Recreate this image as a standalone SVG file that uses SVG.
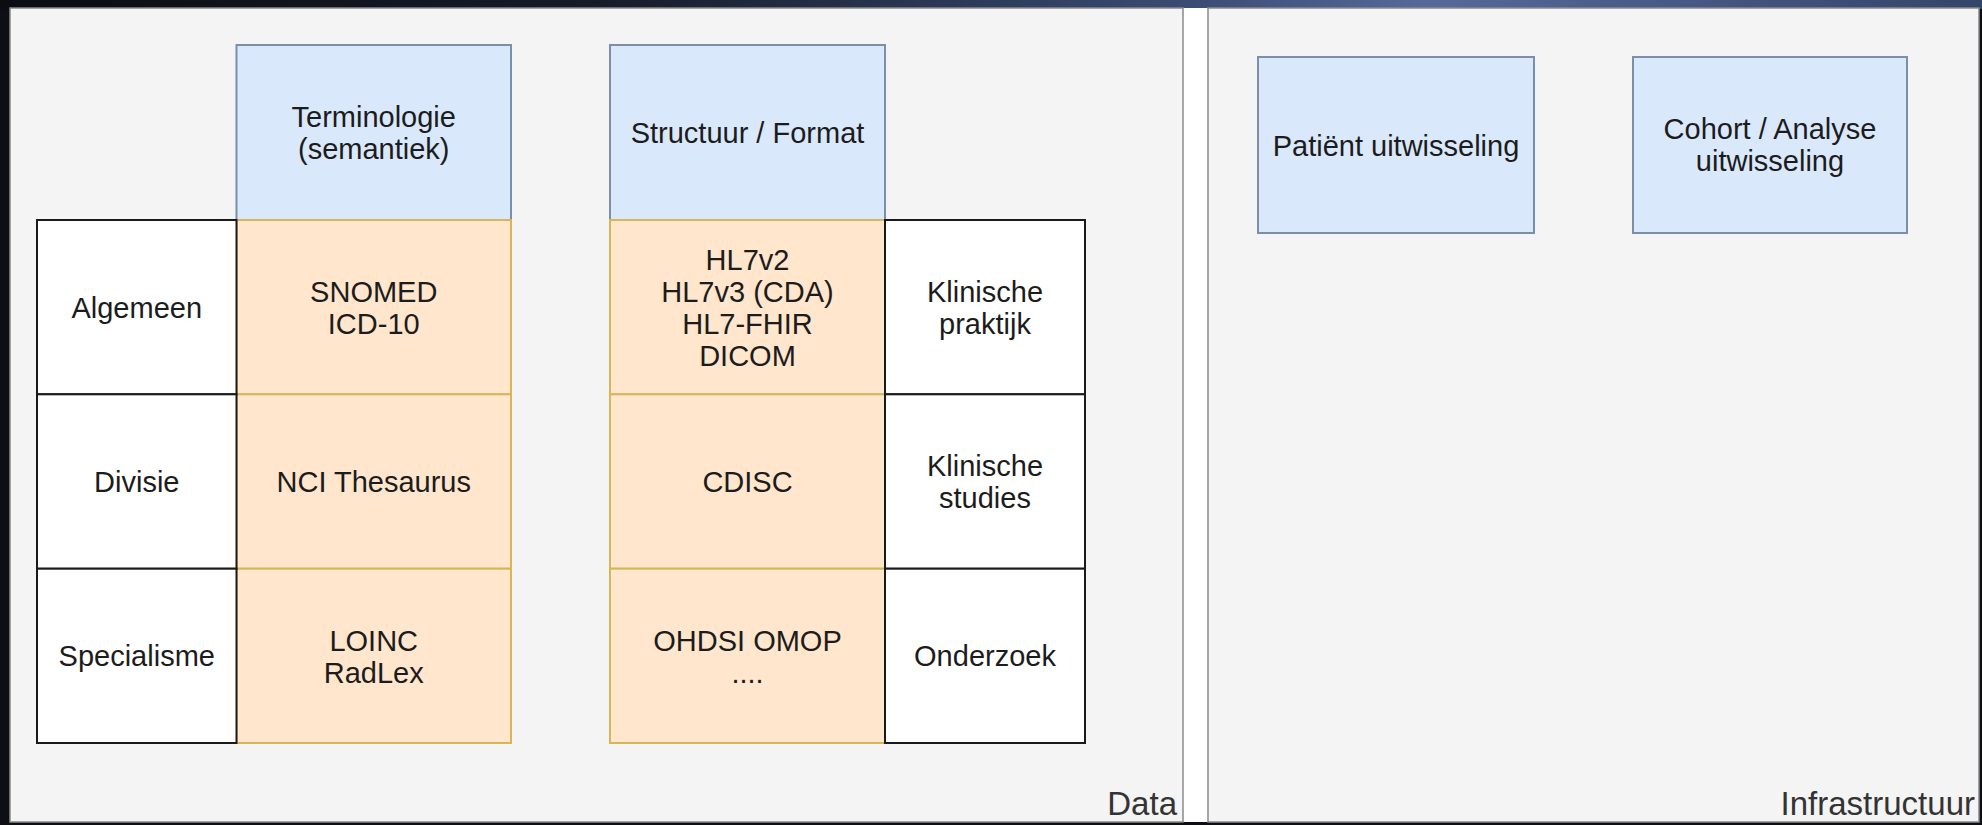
<svg xmlns="http://www.w3.org/2000/svg" width="1982" height="825" viewBox="0 0 1982 825">
<defs>
<linearGradient id="topband" x1="0" y1="0" x2="1" y2="0">
<stop offset="0" stop-color="#0c0d12"/>
<stop offset="0.3" stop-color="#161b28"/>
<stop offset="0.6" stop-color="#3a4c74"/>
<stop offset="0.72" stop-color="#56699a"/>
<stop offset="1" stop-color="#34456a"/>
</linearGradient>
<style>
text { font-family: "Liberation Sans", Arial, sans-serif; font-size: 29px; fill: #1c1c1c; text-anchor: middle; }
.panel { fill: #f4f4f4; stroke: #8a8a8a; stroke-width: 1.5; }
.hdr { fill: #dae8fc; stroke: #7b8fab; stroke-width: 2; }
.std { fill: #ffe6cc; stroke: #d6b656; stroke-width: 2; }
.cat { fill: #ffffff; stroke: #1a1a1a; stroke-width: 2; }
.plabel { font-size: 33px; text-anchor: end; fill: #333333; }
</style>
</defs>
<rect width="1982" height="825" fill="#0e0f14"/>
<rect width="1982" height="9" fill="url(#topband)"/>
<rect x="1183" y="8" width="26" height="814" fill="#ffffff"/>

<g id="panel-data">
<rect class="panel" x="10" y="8" width="1173" height="814"/>
<text class="plabel" x="1177" y="815">Data</text>
</g>
<g id="panel-infra">
<rect class="panel" x="1208" y="8" width="771" height="814"/>
<text class="plabel" x="1975" y="815">Infrastructuur</text>
</g>

<g id="hdr-terminologie">
<rect class="hdr" x="236.5" y="45" width="274.5" height="175"/>
<text x="373.75" y="127">Terminologie</text>
<text x="373.75" y="159">(semantiek)</text>
</g>
<g id="hdr-structuur">
<rect class="hdr" x="610" y="45" width="275" height="175"/>
<text x="747.5" y="143">Structuur / Format</text>
</g>

<g id="term-algemeen">
<rect class="std" x="236.5" y="220" width="274.5" height="174.3"/>
<text x="373.75" y="301.5">SNOMED</text>
<text x="373.75" y="333.5">ICD-10</text>
</g>
<g id="term-divisie">
<rect class="std" x="236.5" y="394.3" width="274.5" height="174.4"/>
<text x="373.75" y="492">NCI Thesaurus</text>
</g>
<g id="term-specialisme">
<rect class="std" x="236.5" y="568.7" width="274.5" height="174.3"/>
<text x="373.75" y="650.5">LOINC</text>
<text x="373.75" y="682.5">RadLex</text>
</g>

<g id="fmt-klinisch">
<rect class="std" x="610" y="220" width="275" height="174.3"/>
<text x="747.5" y="269.5">HL7v2</text>
<text x="747.5" y="301.5">HL7v3 (CDA)</text>
<text x="747.5" y="333.5">HL7-FHIR</text>
<text x="747.5" y="365.5">DICOM</text>
</g>
<g id="fmt-studies">
<rect class="std" x="610" y="394.3" width="275" height="174.4"/>
<text x="747.5" y="492">CDISC</text>
</g>
<g id="fmt-onderzoek">
<rect class="std" x="610" y="568.7" width="275" height="174.3"/>
<text x="747.5" y="650.5">OHDSI OMOP</text>
<text x="747.5" y="682.5">....</text>
</g>

<g id="cat-algemeen">
<rect class="cat" x="37" y="220" width="199.5" height="174.3"/>
<text x="136.75" y="317.5">Algemeen</text>
</g>
<g id="cat-divisie">
<rect class="cat" x="37" y="394.3" width="199.5" height="174.4"/>
<text x="136.75" y="492">Divisie</text>
</g>
<g id="cat-specialisme">
<rect class="cat" x="37" y="568.7" width="199.5" height="174.3"/>
<text x="136.75" y="666">Specialisme</text>
</g>

<g id="dom-klinische-praktijk">
<rect class="cat" x="885" y="220" width="200" height="174.3"/>
<text x="985" y="301.5">Klinische</text>
<text x="985" y="333.5">praktijk</text>
</g>
<g id="dom-klinische-studies">
<rect class="cat" x="885" y="394.3" width="200" height="174.4"/>
<text x="985" y="476">Klinische</text>
<text x="985" y="508">studies</text>
</g>
<g id="dom-onderzoek">
<rect class="cat" x="885" y="568.7" width="200" height="174.3"/>
<text x="985" y="666">Onderzoek</text>
</g>

<g id="infra-patient">
<rect class="hdr" x="1258" y="57" width="276" height="176"/>
<text x="1396" y="155.5">Patiënt uitwisseling</text>
</g>
<g id="infra-cohort">
<rect class="hdr" x="1633" y="57" width="274" height="176"/>
<text x="1770" y="139">Cohort / Analyse</text>
<text x="1770" y="171">uitwisseling</text>
</g>

<g id="connectors"/>
</svg>
